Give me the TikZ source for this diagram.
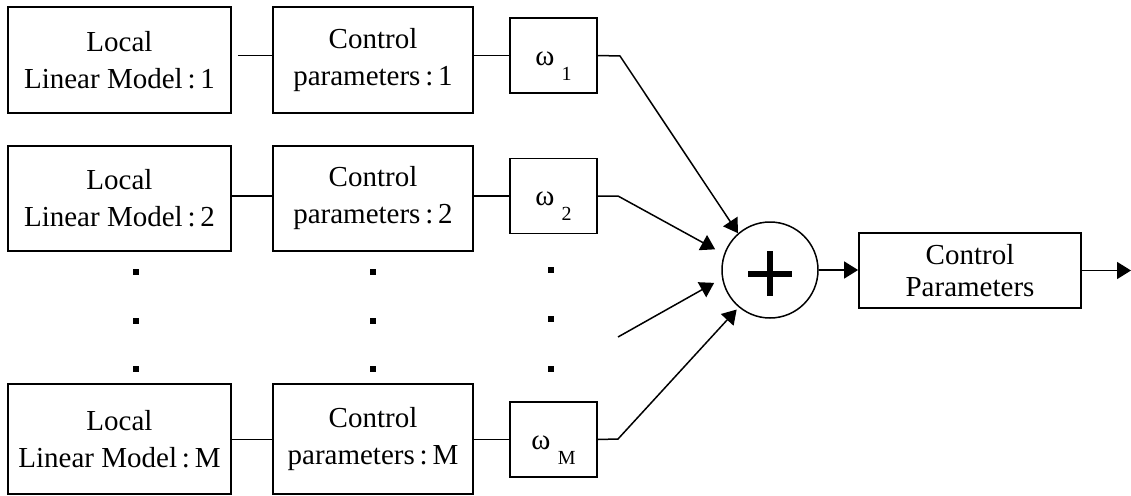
\documentclass[tikz,border=0pt]{standalone}
\usepackage{fontspec}
\setmainfont{Liberation Serif}
\usetikzlibrary{arrows.meta,calc}
\begin{document}
\begin{tikzpicture}[x=1pt,y=-1pt,
  blk/.style={draw, line width=1.8pt, inner sep=0pt, align=center,
    font=\fontsize{29}{37}\selectfont},
  lbox/.style={blk, minimum width=223pt, minimum height=106pt},
  cbox/.style={blk, minimum width=200pt, minimum height=106pt},
  wbox/.style={draw, line width=1.8pt, minimum width=87pt, minimum height=75pt, inner sep=0pt},
  wtext/.style={anchor=base, inner sep=0pt, font=\fontsize{29}{29}\selectfont},
  wire/.style={line width=1.5pt},
  arr/.style={wire, -{Triangle[length=14pt,width=17pt]}},
  sumnode/.style={draw, circle, line width=1.5pt, minimum size=96pt, inner sep=0pt},
  dot/.style={fill=black},
]
\useasboundingbox (0,0) rectangle (1131,495);

% weight label: omega with a lowered index
\newcommand{\wlab}[1]{ω\ \raisebox{-15pt}{\fontsize{20}{20}\selectfont #1}}

% first column: local linear models
\node[lbox] (L1) at (119.5,60)  {Local\\Linear Model\,:\,1};
\node[lbox, minimum height=105pt] (L2) at (119.5,198.5) {Local\\Linear Model\,:\,2};
\node[lbox, minimum height=110pt] (LM) at (119.5,439) {Local\\Linear Model\,:\,M};

% second column: control parameters
\node[cbox] (C1) at (373,60)  {Control\\parameters\,:\,1};
\node[cbox, minimum height=105pt] (C2) at (373,198.5) {Control\\parameters\,:\,2};
\node[cbox, minimum height=110pt] (CM) at (373,439) {Control\\parameters\,:\,M};

% third column: weights
\node[wbox] (W1) at (553.5,55.5) {};
\node[wbox] (W2) at (553.5,196) {};
\node[wbox] (WM) at (553.5,439.5) {};
\node[wtext] (W1t) at ([yshift=-9.5pt]W1.center) {\wlab{1}};
\node[wtext] (W2t) at ([yshift=-9.5pt]W2.center) {\wlab{2}};
\node[wtext] (WMt) at ([yshift=-9.5pt]WM.center) {\wlab{M}};

% summing junction and output block
\node[sumnode] (S) at (770,270) {};
\draw[line width=5.5pt] ([xshift=-22pt,yshift=-4pt]S.center) -- ([xshift=22pt,yshift=-4pt]S.center);
\draw[line width=5.5pt] ([yshift=19pt]S.center) -- ([yshift=-26pt]S.center);
\node[blk, minimum width=222pt, minimum height=75pt, font=\fontsize{29}{32}\selectfont] (O) at (970,270.5) {Control\\Parameters};

% bends and free ends
\coordinate (k1) at (620,56);
\coordinate (k2) at (618,196);
\coordinate (k3) at (618,337);
\coordinate (kM) at (618,439);
\coordinate (out) at (1131,270.5);

% row wiring
\draw[wire] ([xshift=6pt]L1.east |- W1.west) -- (C1.west |- W1.west);
\draw[wire] (C1.east |- W1.west) -- (W1.west);
\draw[wire] (L2.east |- W2.west) -- (C2.west |- W2.west);
\draw[wire] (C2.east |- W2.west) -- (W2.west);
\draw[wire] (LM.east |- WM.west) -- (CM.west |- WM.west);
\draw[wire] (CM.east |- WM.west) -- (WM.west);

% weighted signals into the sum
\draw[arr] (W1.east) -- (k1) -- (S.131);
\draw[arr, shorten >=10pt] (W2.east) -- (k2) -- (S.161);
\draw[arr, shorten >=9pt] (k3) -- (S.190);
\draw[arr, shorten >=3pt] (WM.east) -- (kM) -- (S.230);

% output
\draw[arr] (S.east) -- (O.west |- S.east);
\draw[arr] (O.east) -- (out);

% ellipsis dots between the rows
\foreach \x/\ya/\yb/\yc in {136/272/321/369, 373/272/321/369, 551/270/319/369}{
  \foreach \y in {\ya,\yb,\yc}
    \fill[dot] (\x-3,\y-3) rectangle (\x+3,\y+3);
}
\end{tikzpicture}
\end{document}
